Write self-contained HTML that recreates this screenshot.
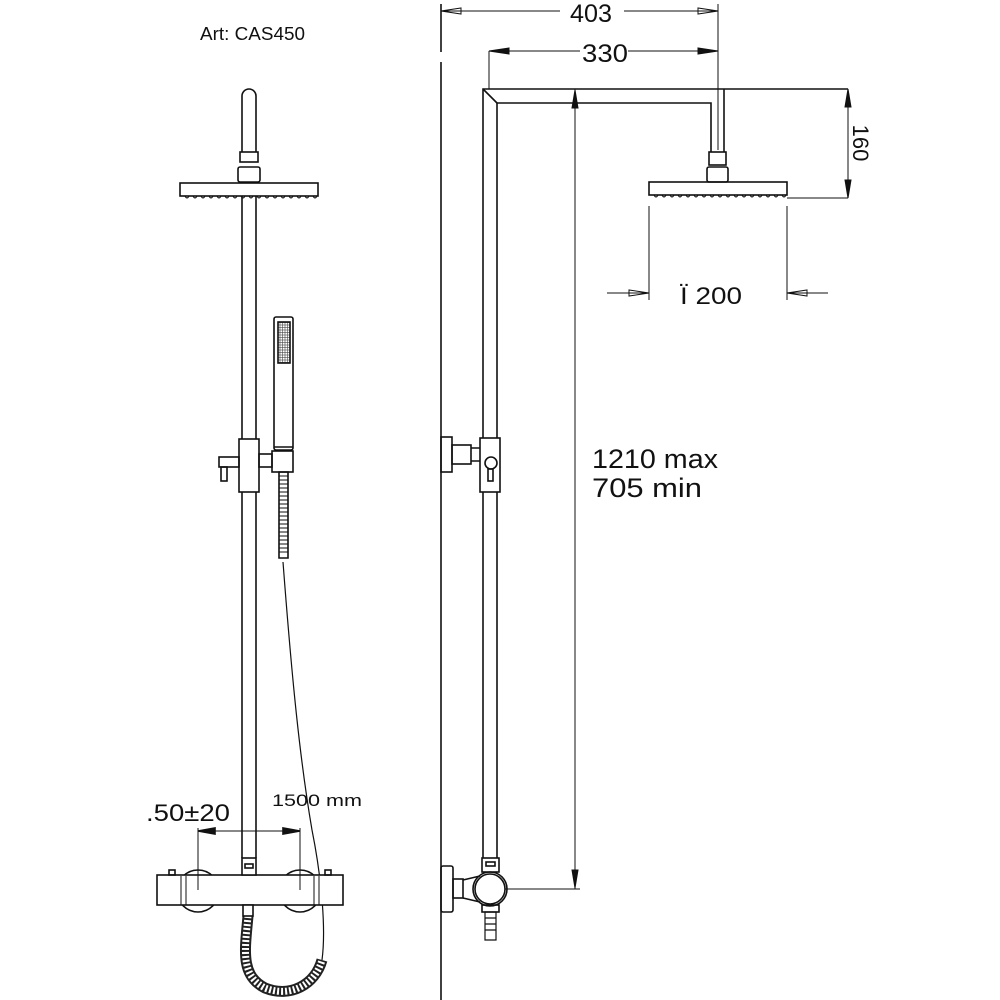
<!DOCTYPE html>
<html><head><meta charset="utf-8"><style>html,body{margin:0;padding:0;background:#fff}svg{display:block}</style></head><body>
<svg width="1000" height="1000" viewBox="0 0 1000 1000" xmlns="http://www.w3.org/2000/svg" font-family="Liberation Sans, sans-serif">
<defs>
<pattern id="grid" width="2.5" height="2.5" patternUnits="userSpaceOnUse"><rect width="2.5" height="2.5" fill="#fff" stroke="#444" stroke-width="0.6"/></pattern>
</defs>
<g fill="none" stroke="#111" stroke-width="1.6">
<!-- LEFT VIEW -->
<text x="200" y="40" font-size="18" fill="#111" stroke="none" textLength="105" lengthAdjust="spacingAndGlyphs">Art: CAS450</text>
<path d="M242 152 V96 A7 7 0 0 1 256 96 V152"/>
<rect x="240" y="152" width="18" height="10"/>
<rect x="238" y="167" width="22" height="15" rx="2"/>
<rect x="180" y="183" width="138" height="13"/>
<path d="M185 196 q2 4 4 0 m4 0 q2 4 4 0 m4 0 q2 4 4 0 m4 0 q2 4 4 0 m4 0 q2 4 4 0 m4 0 q2 4 4 0 m4 0 q2 4 4 0 m4 0 q2 4 4 0 m4 0 q2 4 4 0 m4 0 q2 4 4 0 m4 0 q2 4 4 0 m4 0 q2 4 4 0 m4 0 q2 4 4 0 m4 0 q2 4 4 0 m4 0 q2 4 4 0 m4 0 q2 4 4 0 m4 0 q2 4 4 0" stroke-width="1"/>
<line x1="242" y1="196" x2="242" y2="439"/><line x1="256" y1="196" x2="256" y2="439"/>
<line x1="242" y1="492" x2="242" y2="858"/><line x1="256" y1="492" x2="256" y2="858"/>
<rect x="239" y="439" width="20" height="53"/>
<rect x="219" y="457" width="20" height="10"/>
<rect x="221" y="467" width="6" height="14"/>
<rect x="259" y="454" width="13" height="13"/>
<rect x="272" y="451" width="21" height="21"/>
<rect x="274" y="317" width="19" height="133" rx="2"/>
<rect x="278" y="322" width="12" height="41" fill="url(#grid)"/>
<line x1="274" y1="447" x2="293" y2="447"/>
<path d="M279 472 h9 v86 h-9 z"/>
<path d="M279 476 h9 M279 480 h9 M279 484 h9 M279 488 h9 M279 492 h9 M279 496 h9 M279 500 h9 M279 504 h9 M279 508 h9 M279 512 h9 M279 516 h9 M279 520 h9 M279 524 h9 M279 528 h9 M279 532 h9 M279 536 h9 M279 540 h9 M279 544 h9 M279 548 h9 M279 552 h9" stroke-width="1"/>
<path d="M283 562 C 292 680, 300 760, 312 830 C 322 880, 326 930, 322 960" stroke-width="1.2"/>
<!-- coiled hose -->
<path d="M248 916 C 245 950, 240 975, 265 988 C 290 998, 315 985, 322 960" stroke-width="11" stroke="#222"/>
<path d="M248 916 C 245 950, 240 975, 265 988 C 290 998, 315 985, 322 960" stroke-width="7" stroke="#fff" stroke-dasharray="2 2"/>
<!-- mixer -->
<circle cx="198" cy="891" r="21"/>
<circle cx="300" cy="891" r="21"/>
<rect x="157" y="875" width="186" height="30" fill="#fff"/>
<path d="M181 876 v29 M186 876 v29 M314 876 v29 M319 876 v29" stroke-width="1"/>
<rect x="169" y="870" width="6" height="5"/><rect x="325" y="870" width="6" height="5"/>
<rect x="242" y="858" width="14" height="17" fill="#fff"/>
<rect x="245" y="864" width="8" height="4"/>
<rect x="243" y="905" width="10" height="11" fill="#fff"/>
<!-- 150 dim -->
<line x1="198" y1="828" x2="198" y2="890" stroke-width="1"/>
<line x1="300" y1="828" x2="300" y2="890" stroke-width="1"/>
<line x1="198" y1="831" x2="300" y2="831" stroke-width="1"/>
<path d="M198 831 l17 -3 v6 z M300 831 l-17 -3 v6 z" fill="#111"/>
<text x="146" y="821" font-size="24" fill="#111" stroke="none" textLength="84" lengthAdjust="spacingAndGlyphs">.50±20</text>
<text x="272" y="806" font-size="17" fill="#111" stroke="none" textLength="90" lengthAdjust="spacingAndGlyphs">1500  mm</text>

<!-- RIGHT VIEW -->
<line x1="441" y1="4" x2="441" y2="52"/><line x1="441" y1="62" x2="441" y2="1000"/>
<line x1="441" y1="11" x2="560" y2="11" stroke-width="1"/><line x1="624" y1="11" x2="718" y2="11" stroke-width="1"/>
<path d="M441 11 l20 -3 v6 z M718 11 l-20 -3 v6 z" stroke-width="1"/>
<text x="570" y="22" font-size="25" fill="#111" stroke="none" textLength="42" lengthAdjust="spacingAndGlyphs">403</text>
<line x1="718" y1="4" x2="718" y2="150" stroke-width="1"/>
<line x1="489" y1="51" x2="489" y2="89" stroke-width="1"/>
<line x1="489" y1="51" x2="580" y2="51" stroke-width="1"/><line x1="628" y1="51" x2="718" y2="51" stroke-width="1"/>
<path d="M489 51 l20 -3 v6 z M718 51 l-20 -3 v6 z" fill="#111" stroke-width="1"/>
<text x="582" y="62" font-size="25" fill="#111" stroke="none" textLength="46" lengthAdjust="spacingAndGlyphs">330</text>
<!-- arm -->
<path d="M483 860 V89 H848"/>
<path d="M497 860 V103 H711 V152"/>
<line x1="483" y1="89" x2="497" y2="103"/>
<line x1="724" y1="89" x2="724" y2="152"/>
<rect x="709" y="152" width="17" height="13"/>
<rect x="707" y="167" width="21" height="15" rx="2"/>
<rect x="649" y="182" width="138" height="13"/>
<path d="M654 195 q2 4 4 0 m4 0 q2 4 4 0 m4 0 q2 4 4 0 m4 0 q2 4 4 0 m4 0 q2 4 4 0 m4 0 q2 4 4 0 m4 0 q2 4 4 0 m4 0 q2 4 4 0 m4 0 q2 4 4 0 m4 0 q2 4 4 0 m4 0 q2 4 4 0 m4 0 q2 4 4 0 m4 0 q2 4 4 0 m4 0 q2 4 4 0 m4 0 q2 4 4 0 m4 0 q2 4 4 0 m4 0 q2 4 4 0" stroke-width="1"/>
<line x1="787" y1="198" x2="848" y2="198" stroke-width="1"/>
<line x1="848" y1="89" x2="848" y2="198" stroke-width="1"/>
<path d="M848 89 l-3 18 h6 z M848 198 l-3 -18 h6 z" fill="#111" stroke-width="1"/>
<text transform="translate(853,143) rotate(90)" font-size="22" fill="#111" stroke="none" text-anchor="middle">160</text>
<!-- 200 dim -->
<line x1="649" y1="206" x2="649" y2="300" stroke-width="1"/><line x1="787" y1="206" x2="787" y2="300" stroke-width="1"/>
<line x1="607" y1="293" x2="649" y2="293" stroke-width="1"/><line x1="787" y1="293" x2="828" y2="293" stroke-width="1"/>
<path d="M649 293 l-20 -3 v6 z M787 293 l20 -3 v6 z" stroke-width="1"/>
<text x="680" y="304" font-size="24" fill="#111" stroke="none" textLength="62" lengthAdjust="spacingAndGlyphs">Ï 200</text>
<!-- 1210 dim -->
<line x1="575" y1="89" x2="575" y2="889" stroke-width="1"/>
<path d="M575 90 l-3 18 h6 z M575 888 l-3 -18 h6 z" fill="#111" stroke-width="1"/>
<line x1="505" y1="889" x2="580" y2="889" stroke-width="1"/>
<text x="592" y="468" font-size="27" fill="#111" stroke="none" textLength="126" lengthAdjust="spacingAndGlyphs">1210  max</text>
<text x="592" y="497" font-size="27" fill="#111" stroke="none" textLength="110" lengthAdjust="spacingAndGlyphs">705  min</text>
<!-- middle bracket -->
<rect x="441" y="437" width="11" height="35"/>
<rect x="452" y="445" width="19" height="19"/>
<path d="M471 448 h8 a6 6 0 0 1 0 13 h-8"/>
<rect x="480" y="438" width="20" height="54" fill="#fff"/>
<circle cx="491" cy="463" r="6"/>
<rect x="488" y="469" width="5" height="12"/>
<!-- bottom -->
<rect x="482" y="858" width="17" height="14" fill="#fff"/>
<rect x="486" y="862" width="9" height="4"/>
<rect x="441" y="866" width="12" height="46" rx="2"/>
<rect x="453" y="879" width="10" height="19"/>
<path d="M463 880 L480 876 M463 898 L480 902"/>
<circle cx="490" cy="889" r="15" fill="#fff"/>
<circle cx="490" cy="889" r="17"/>
<rect x="482" y="905" width="17" height="7"/>
<path d="M485 912 h11 v28 h-11 z M485 918 h11 M485 924 h11 M485 930 h11" stroke-width="1.2"/>
</g>
</svg>
</body></html>
